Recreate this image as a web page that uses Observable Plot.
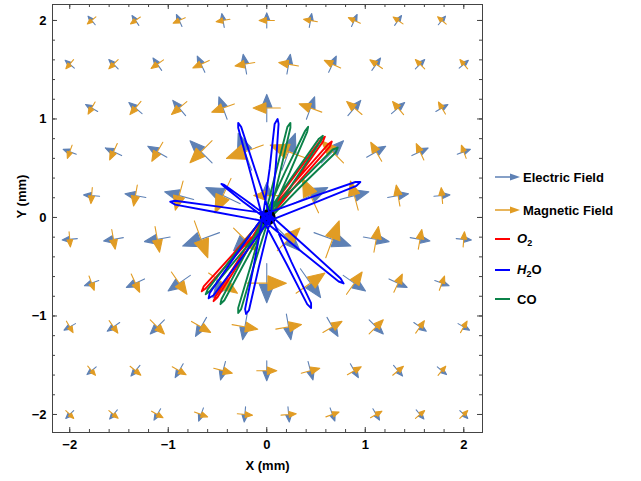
<!DOCTYPE html>
<html>
<head>
<meta charset="utf-8">
<script src="https://cdn.jsdelivr.net/npm/d3@7"></script>
<script src="https://cdn.jsdelivr.net/npm/@observablehq/plot@0.6"></script>
<style>
  body { margin: 0; background: #fff; }
  #wrap { position: relative; width: 641px; height: 481px; }
  .legend { position: absolute; left: 0; top: 0; font: bold 13px "Liberation Sans", Arial, sans-serif; color: #000; }
  .item { position: absolute; left: 493px; height: 16px; display: flex; align-items: center; white-space: nowrap; }
  .item svg { flex: none; }
  .item sub { font-size: 9px; vertical-align: -3px; }
</style>
</head>
<body>
<div id="wrap"></div>
<script>
// Staggered sampling grid of the field (mm)
const rowY = [2, 1.556, 1.111, 0.667, 0.222, -0.222, -0.667, -1.111, -1.556, -2];
const xsStaggered = [-1.778, -1.333, -0.889, -0.444, 0, 0.444, 0.889, 1.333, 1.778];
const xsAligned = [-2, -1.556, -1.111, -0.667, -0.222, 0.222, 0.667, 1.111, 1.556, 2];

// Electric field direction (degrees, counter-clockwise from +x), one row per rowY
const eAngle = [
  [130, 125, 115, 100, 90, 80, 65, 55, 50],
  [140, 135, 125, 115, 100, 80, 65, 55, 45, 40],
  [150, 140, 130, 110, 90, 70, 50, 40, 30],
  [160, 155, 150, 135, 110, 70, 45, 30, 25, 20],
  [175, 170, 165, 155, 90, 25, 15, 10, 5],
  [185, 190, 190, 200, 225, 315, 340, 350, 350, 355],
  [200, 205, 215, 235, 270, 305, 325, 335, 340],
  [210, 215, 225, 240, 260, 280, 300, 315, 325, 330],
  [220, 230, 240, 255, 270, 285, 300, 310, 320],
  [225, 230, 240, 250, 265, 275, 290, 300, 310, 315]
];

// Magnetic field direction (degrees)
const bAngle = [
  [220, 215, 205, 190, 180, 170, 155, 145, 140],
  [230, 225, 215, 205, 190, 170, 155, 145, 135, 130],
  [240, 230, 220, 200, 180, 160, 140, 130, 120],
  [250, 245, 240, 225, 200, 160, 135, 120, 115, 110],
  [265, 260, 255, 245, 180, 115, 105, 100, 95],
  [275, 280, 280, 290, 315, 45, 70, 80, 80, 85],
  [290, 295, 305, 325, 0, 35, 55, 65, 70],
  [300, 305, 315, 330, 350, 10, 30, 45, 55, 60],
  [310, 320, 330, 345, 0, 15, 30, 40, 50],
  [315, 320, 330, 340, 355, 5, 20, 30, 40, 45]
];

// Relative field strength (shared by both fields)
const strength = [
  [0.28, 0.30, 0.33, 0.35, 0.38, 0.35, 0.33, 0.30, 0.28],
  [0.30, 0.33, 0.38, 0.45, 0.50, 0.50, 0.45, 0.38, 0.33, 0.30],
  [0.35, 0.43, 0.50, 0.60, 0.68, 0.60, 0.50, 0.43, 0.35],
  [0.35, 0.45, 0.55, 0.78, 0.98, 0.98, 0.78, 0.55, 0.45, 0.35],
  [0.40, 0.53, 0.75, 0.95, 0.65, 0.95, 0.75, 0.53, 0.40],
  [0.38, 0.50, 0.65, 0.98, 0.80, 0.80, 0.98, 0.65, 0.50, 0.38],
  [0.38, 0.50, 0.68, 0.88, 0.98, 0.88, 0.68, 0.50, 0.38],
  [0.33, 0.38, 0.50, 0.55, 0.65, 0.65, 0.55, 0.50, 0.38, 0.33],
  [0.30, 0.35, 0.40, 0.48, 0.50, 0.48, 0.40, 0.35, 0.30],
  [0.28, 0.30, 0.33, 0.35, 0.38, 0.38, 0.35, 0.33, 0.30, 0.28]
];

// Molecule trajectories (x, y in mm)
const o2Path = [
  [0, 0],
  [-0.02, 0.01], [0.28, 0.42], [0.55, 0.79], [0.59, 0.82], [0.57, 0.77], [0.31, 0.40], [0.02, -0.01],
  [0.02, -0.01], [-0.32, -0.39], [-0.62, -0.72], [-0.66, -0.75], [-0.64, -0.70], [-0.34, -0.37], [-0.02, 0.01],
  [-0.02, 0.01], [0.32, 0.40], [0.62, 0.74], [0.66, 0.77], [0.64, 0.72], [0.34, 0.38], [0.02, -0.01],
  [0.02, -0.01], [-0.26, -0.43], [-0.50, -0.81], [-0.54, -0.85], [-0.52, -0.80], [-0.28, -0.42], [-0.02, 0.01]
];

const h2oPath = [
  [0, 0],
  [-0.04, -0.01], [-0.17, 0.47], [-0.29, 0.91], [-0.29, 0.96], [-0.26, 0.92], [-0.12, 0.49], [0.04, 0.01],
  [-0.04, 0.00], [0.03, 0.50], [0.08, 0.95], [0.11, 1.00], [0.12, 0.95], [0.09, 0.50], [0.04, 0.00],
  [-0.01, 0.04], [0.46, 0.21], [0.90, 0.36], [0.95, 0.36], [0.91, 0.32], [0.49, 0.15], [0.01, -0.04],
  [0.03, 0.03], [0.41, -0.31], [0.75, -0.62], [0.78, -0.67], [0.73, -0.65], [0.37, -0.36], [-0.03, -0.03],
  [0.04, 0.02], [0.25, -0.45], [0.45, -0.87], [0.45, -0.92], [0.41, -0.88], [0.20, -0.47], [-0.04, -0.02],
  [0.04, -0.01], [-0.08, -0.50], [-0.18, -0.94], [-0.21, -0.98], [-0.22, -0.93], [-0.13, -0.48], [-0.04, 0.01],
  [0.03, -0.02], [-0.27, -0.43], [-0.54, -0.79], [-0.59, -0.82], [-0.58, -0.77], [-0.32, -0.39], [-0.03, 0.02],
  [-0.01, -0.04], [-0.50, 0.05], [-0.93, 0.13], [-0.98, 0.16], [-0.93, 0.17], [-0.49, 0.11], [0.01, 0.04],
  [-0.01, -0.01], [-0.24, 0.16], [-0.44, 0.32], [-0.46, 0.34], [-0.43, 0.33], [-0.22, 0.18], [0.01, 0.01]
];

const coPath = [
  [0, 0],
  [-0.02, 0.01], [0.10, 0.49], [0.21, 0.92], [0.24, 0.96], [0.24, 0.91], [0.14, 0.48], [0.02, -0.01],
  [0.02, -0.01], [-0.13, -0.49], [-0.26, -0.93], [-0.29, -0.97], [-0.29, -0.92], [-0.16, -0.48], [-0.02, 0.01],
  [-0.02, 0.01], [0.19, 0.47], [0.39, 0.88], [0.42, 0.92], [0.41, 0.87], [0.23, 0.45], [0.02, -0.01],
  [0.02, -0.01], [-0.22, -0.45], [-0.43, -0.84], [-0.47, -0.88], [-0.46, -0.83], [-0.25, -0.43], [-0.02, 0.01],
  [-0.02, 0.01], [0.27, 0.43], [0.53, 0.80], [0.57, 0.83], [0.55, 0.78], [0.30, 0.40], [0.02, -0.01],
  [0.02, -0.02], [-0.29, -0.40], [-0.58, -0.75], [-0.62, -0.78], [-0.60, -0.73], [-0.33, -0.38], [-0.02, 0.02],
  [-0.02, 0.02], [0.35, 0.37], [0.67, 0.69], [0.72, 0.71], [0.70, 0.66], [0.37, 0.34], [0.02, -0.02]
];

const trapCentre = [[0.01, 0]];

// Frame ticks
const majorTicks = [-2, -1, 0, 1, 2];
const minorTicks = [-2, -1.8, -1.6, -1.4, -1.2, -1, -0.8, -0.6, -0.4, -0.2, 0,
                    0.2, 0.4, 0.6, 0.8, 1, 1.2, 1.4, 1.6, 1.8, 2];

// Styling
const eColor = "#5e81b5";
const bColor = "#e19c24";
const o2Color = "#ff0000";
const h2oColor = "#0000ff";
const coColor = "#0b8249";
const frameColor = "#444";

const W = 641, H = 481;
const mL = 52, mR = 159, mT = 4, mB = 49;
const frameW = W - mL - mR, frameH = H - mT - mB;

// Flatten the grid into one record per sample
const field = [];
rowY.forEach((y, i) => {
  const xs = strength[i].length === 9 ? xsStaggered : xsAligned;
  xs.forEach((x, j) => field.push({x, y, m: strength[i][j], e: eAngle[i][j], b: bAngle[i][j]}));
});

// Arrow glyph: thin shaft with a filled triangular head
const headedArrow = {
  draw(context, l) {
    const h = l * 0.47, w = l * 0.19;
    context.moveTo(0, 0);
    context.lineTo(0, -l + h);
    context.moveTo(0, -l);
    context.lineTo(w, -l + h);
    context.lineTo(-w, -l + h);
    context.closePath();
  }
};

const fmt = d => (d < 0 ? "\u2212" + (-d) : String(d));

const tickMarks = (values, len) => [
  Plot.ruleX(values, {x: d => d, insetTop: frameH - len, stroke: frameColor}),
  Plot.ruleX(values, {x: d => d, insetBottom: frameH - len, stroke: frameColor}),
  Plot.ruleY(values, {y: d => d, insetRight: frameW - len, stroke: frameColor}),
  Plot.ruleY(values, {y: d => d, insetLeft: frameW - len, stroke: frameColor})
];

const traj = (path, color) =>
  Plot.line(path, {x: d => d[0], y: d => d[1], stroke: color, strokeWidth: 1.9, strokeLinejoin: "round"});

const chart = Plot.plot({
  width: W,
  height: H,
  marginLeft: mL,
  marginRight: mR,
  marginTop: mT,
  marginBottom: mB,
  style: {fontFamily: "'Liberation Sans', Arial, sans-serif", fontSize: "13px", fontWeight: "bold", color: "#000"},
  x: {domain: [-2.175, 2.19]},
  y: {domain: [-2.183, 2.162]},
  length: {domain: [0, 1], range: [0, 40]},
  marks: [
    Plot.vector(field, {
      x: "x", y: "y", length: "m", rotate: d => 90 - d.e, anchor: "middle",
      shape: headedArrow, stroke: eColor, fill: eColor, strokeWidth: 1.1
    }),
    Plot.vector(field, {
      x: "x", y: "y", length: "m", rotate: d => 90 - d.b, anchor: "middle",
      shape: headedArrow, stroke: bColor, fill: bColor, strokeWidth: 1.1
    }),
    traj(o2Path, o2Color),
    traj(coPath, coColor),
    Plot.dot(trapCentre, {x: d => d[0], y: d => d[1], r: 8, fill: "#000"}),
    traj(h2oPath, h2oColor),
    Plot.frame({stroke: frameColor}),
    ...tickMarks(minorTicks, 3),
    ...tickMarks(majorTicks, 5),
    Plot.axisX({ticks: majorTicks, tickFormat: fmt, tickSize: 0, tickPadding: 7, label: null}),
    Plot.axisY({ticks: majorTicks, tickFormat: fmt, tickSize: 0, tickPadding: 6, label: null}),
    Plot.text(["X (mm)"], {text: d => d, frameAnchor: "bottom", dy: 37, fontSize: 13, fontWeight: "bold"}),
    Plot.text(["Y (mm)"], {text: d => d, frameAnchor: "left", dx: -31, rotate: -90, fontSize: 13, fontWeight: "bold"})
  ]
});

const wrap = document.getElementById("wrap");
wrap.appendChild(chart);

// Legend
const arrowIcon = c => `<svg width="30" height="12"><line x1="2" y1="6" x2="19" y2="6" stroke="${c}" stroke-width="1.5"/><path d="M27,6 L17,2.6 L17,9.4 Z" fill="${c}"/></svg>`;
const lineIcon = c => `<svg width="24" height="12"><line x1="2" y1="6" x2="17" y2="6" stroke="${c}" stroke-width="2"/></svg>`;
const entries = [
  {top: 169, icon: arrowIcon(eColor), label: "Electric Field"},
  {top: 202, icon: arrowIcon(bColor), label: "Magnetic Field"},
  {top: 231, icon: lineIcon(o2Color), label: "<i>O</i><sub>2</sub>"},
  {top: 262, icon: lineIcon(h2oColor), label: "<i>H</i><sub>2</sub>O"},
  {top: 291, icon: lineIcon(coColor), label: "CO"}
];
const legend = document.createElement("div");
legend.className = "legend";
legend.innerHTML = entries.map(e => `<div class="item" style="top:${e.top}px">${e.icon}<span>${e.label}</span></div>`).join("");
wrap.appendChild(legend);
</script>
</body>
</html>
